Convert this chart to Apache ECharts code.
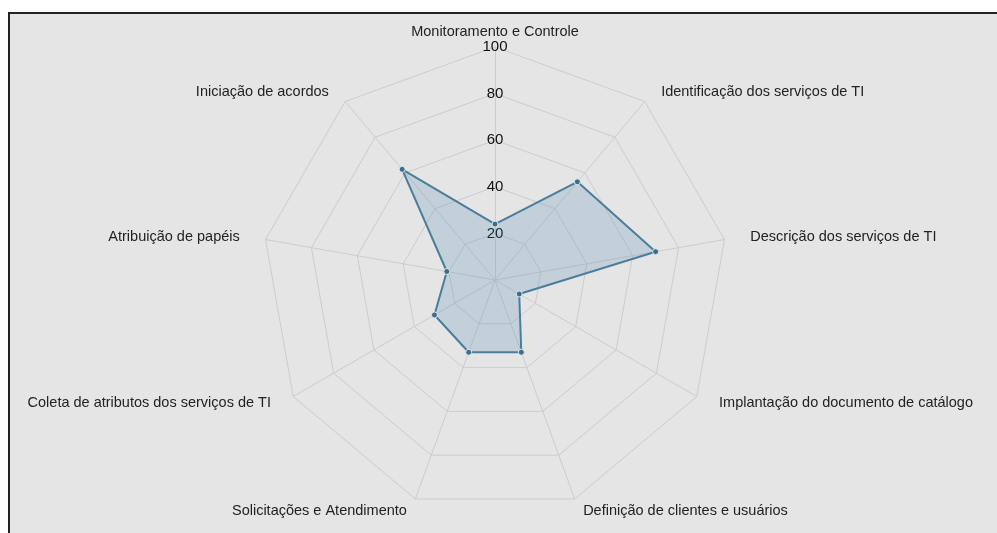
<!DOCTYPE html>
<html>
<head>
<meta charset="utf-8">
<script src="https://cdn.jsdelivr.net/npm/echarts@6/dist/echarts.min.js"></script>
<style>
  html, body { margin: 0; padding: 0; background: #ffffff; width: 997px; height: 533px; overflow: hidden; }
  #frame { position: absolute; left: 8px; top: 12px; width: 1000px; height: 540px; background: #e5e5e5; border-left: 2px solid #222; border-top: 2px solid #222; }
  #chart { position: absolute; left: 0; top: 0; width: 997px; height: 533px; }
</style>
</head>
<body>
<div id="frame"></div>
<div id="chart"></div>
<script>
// Categories in clockwise order starting at the top
const categories = [
  'Monitoramento e Controle',
  'Identificação dos serviços de TI',
  'Descrição dos serviços de TI',
  'Implantação do documento de catálogo',
  'Definição de clientes e usuários',
  'Solicitações e Atendimento',
  'Coleta de atributos dos serviços de TI',
  'Atribuição de papéis',
  'Iniciação de acordos'
];
const values = [24, 55, 70, 12, 33, 33, 30, 21, 62];
const maxValue = 100;
const tickLabels = ['20', '40', '60', '80', '100'];

const FONT = 'Liberation Sans, Arial, sans-serif';
const n = categories.length;

// ECharts places radar indicators counter-clockwise; reorder for clockwise layout
const order = [0].concat(categories.map((_, i) => i).slice(1).reverse());

const indicator = order.map((idx, k) => {
  const ind = { name: categories[idx], max: maxValue, min: 0 };
  if (k === 0) {
    ind.axisLabel = {
      show: true,
      margin: 0,
      align: 'center',
      verticalAlign: 'middle',
      color: '#111',
      fontSize: 15,
      fontFamily: FONT,
      formatter: v => (tickLabels.indexOf(String(v)) >= 0 ? String(v) : '')
    };
  }
  return ind;
});
const seriesValues = order.map(idx => values[idx]);

// per-label horizontal padding (extra sideways spacing, like the reference)
const rich = {};
categories.forEach((c, i) => {
  const a = i * 2 * Math.PI / n;
  const s = Math.sin(a);
  const p = Math.round(13 * Math.abs(s));
  rich['r' + i] = {
    fontSize: 14.5,
    fontFamily: FONT,
    color: '#222',
    padding: s > 0.01 ? [0, 0, 0, p] : (s < -0.01 ? [0, p, 0, 0] : [0, 0, 0, 0])
  };
});

const chart = echarts.init(document.getElementById('chart'), null, { renderer: 'canvas' });
chart.setOption({
  animation: false,
  backgroundColor: 'transparent',
  radar: {
    center: [495, 280],
    radius: 233,
    startAngle: 90,
    shape: 'polygon',
    splitNumber: 5,
    indicator: indicator,
    axisName: {
      color: '#222',
      fontSize: 14.5,
      fontFamily: FONT,
      verticalAlign: 'middle',
      formatter: function (name) {
        const i = categories.indexOf(name);
        return '{r' + i + '|' + name + '}';
      },
      rich: rich
    },
    nameGap: 13,
    axisLine: { lineStyle: { color: '#cccccc', width: 1 } },
    splitLine: { lineStyle: { color: '#cccccc', width: 1 } },
    splitArea: { show: false },
    axisTick: { show: false },
    axisLabel: { show: false }
  },
  series: [{
    type: 'radar',
    symbol: 'circle',
    symbolSize: 6,
    data: [{
      value: seriesValues,
      lineStyle: { color: '#4b7d99', width: 2 },
      itemStyle: { color: '#3f6d88', borderColor: '#d8eaf5', borderWidth: 1 },
      areaStyle: { color: 'rgba(70,130,180,0.3)' }
    }]
  }]
});
</script>
</body>
</html>
